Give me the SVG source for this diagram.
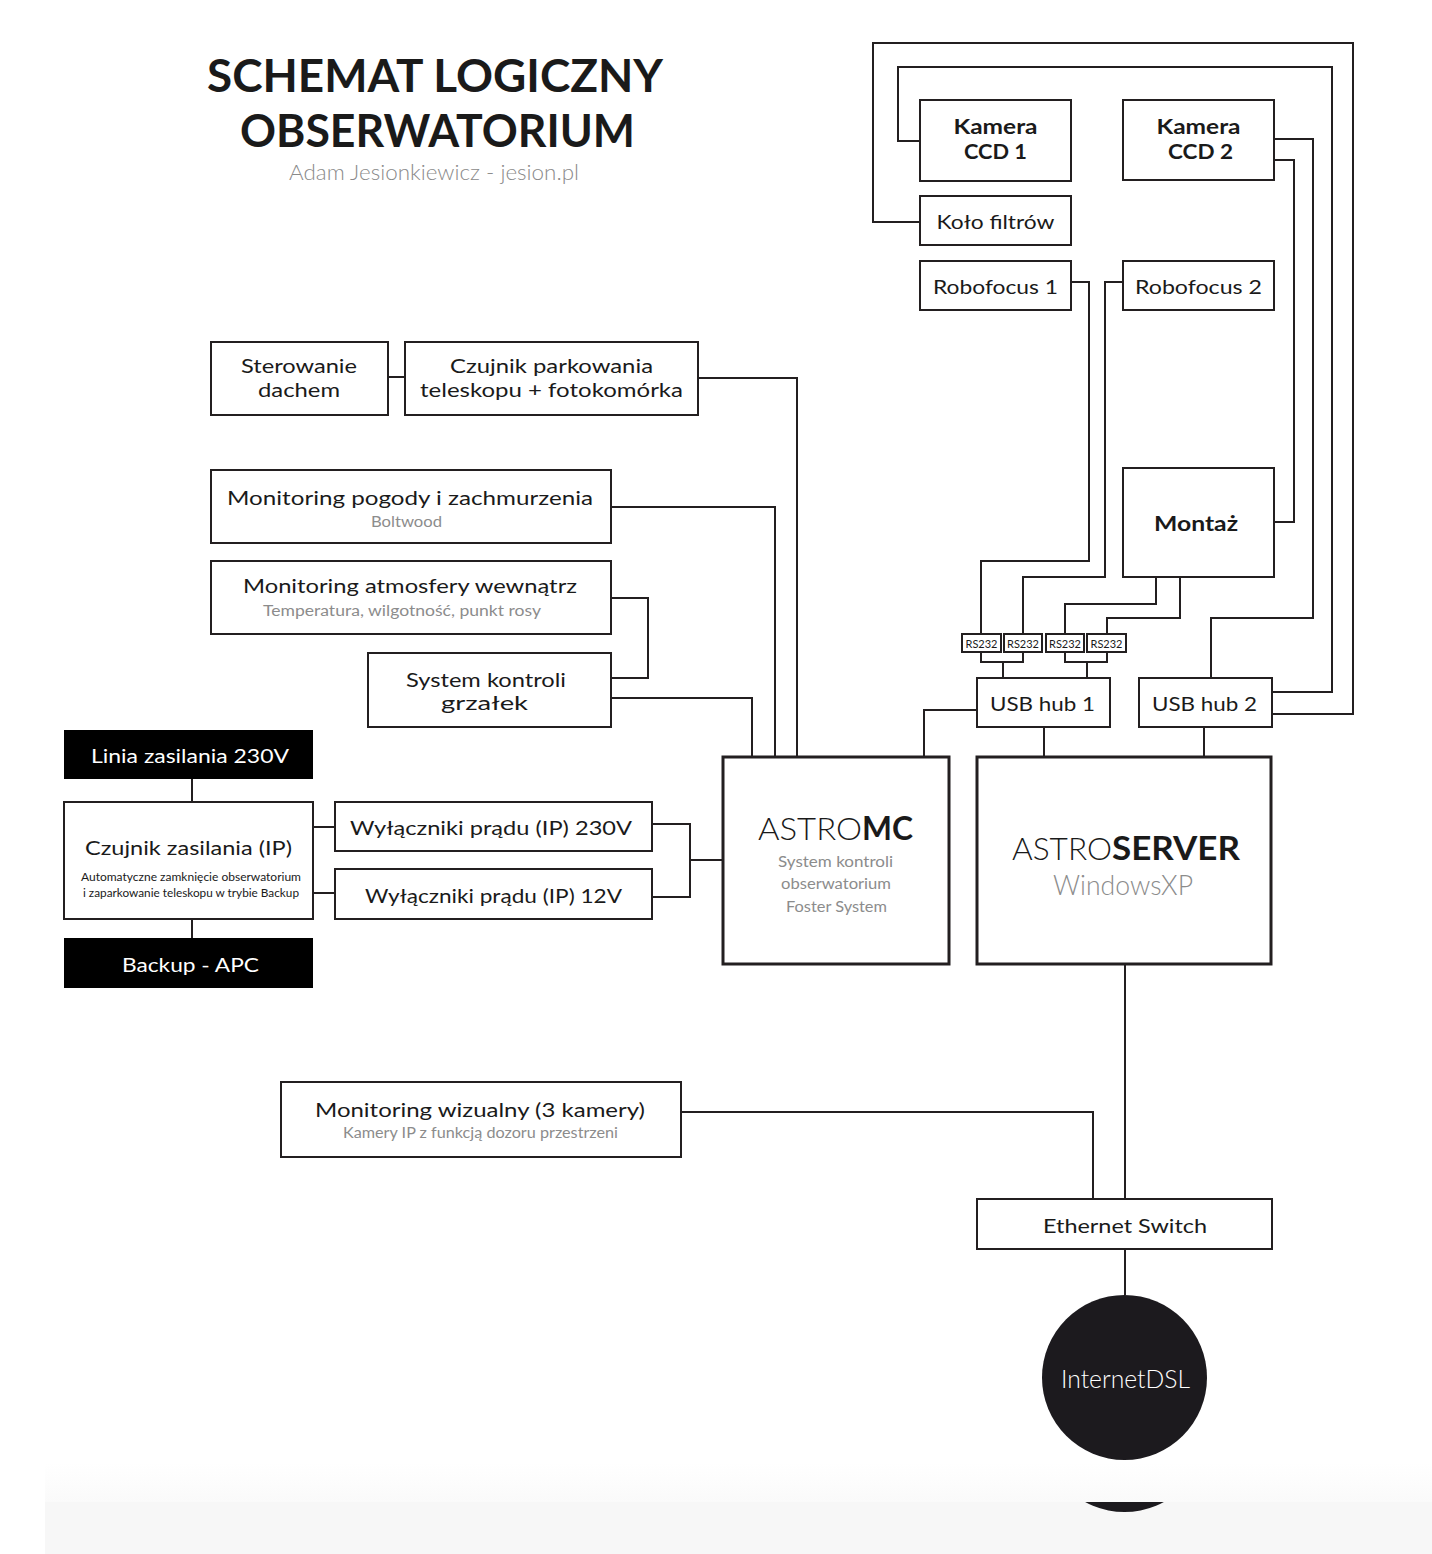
<svg xmlns="http://www.w3.org/2000/svg" width="1432" height="1554" viewBox="0 0 1432 1554">
<style>
.box{fill:#fff;stroke:#231f20;stroke-width:2}
.big{stroke-width:3}
.dark{fill:#000;stroke:none}
.wire{fill:none;stroke:#231f20;stroke-width:2}
text{font-family:Lato,"Open Sans","Noto Sans",sans-serif;fill:#1a1a1a;text-anchor:middle}
.n{font-size:19.5px}
.k{font-size:20.5px}
.s{font-size:15.5px;fill:#8c8c8c}
.b{font-weight:700}
.w{fill:#fff}
.rs{font-size:10.5px}
</style>
<defs>
<clipPath id="band"><rect x="0" y="1502" width="1432" height="52"/></clipPath>
<linearGradient id="fade" x1="0" y1="0" x2="0" y2="1"><stop offset="0" stop-color="#fff"/><stop offset="1" stop-color="#fafafa"/></linearGradient>
</defs>
<rect width="1432" height="1554" fill="#fff"/>
<rect x="45" y="1463" width="1387" height="39" fill="url(#fade)"/>
<rect x="45" y="1502" width="1387" height="52" fill="#f7f7f7"/>
<circle cx="1124.5" cy="1429.5" r="82.5" fill="#1c1a1e" clip-path="url(#band)"/>

<g id="title">
<text x="435" y="92" class="b" font-size="45" textLength="456" lengthAdjust="spacingAndGlyphs">SCHEMAT LOGICZNY</text>
<text x="437.5" y="147" class="b" font-size="45" textLength="395" lengthAdjust="spacingAndGlyphs">OBSERWATORIUM</text>
<text x="434" y="180" font-size="21" font-weight="300" style="fill:#8a8a8a" textLength="290" lengthAdjust="spacingAndGlyphs">Adam Jesionkiewicz - jesion.pl</text>
</g>

<g id="connectors">
<path class="wire" d="M920,222 H873 V43 H1353 V714 H1272"/>
<path class="wire" d="M920,141 H898 V67 H1332 V692 H1272"/>
<path class="wire" d="M1274,139 H1313 V618 H1211 V678"/>
<path class="wire" d="M1274,160 H1294 V522 H1274"/>
<path class="wire" d="M1071,282 H1089 V561 H981 V634"/>
<path class="wire" d="M1123,282 H1105 V577 H1023 V634"/>
<path class="wire" d="M1156,577 V604 H1065 V634"/>
<path class="wire" d="M1180,577 V618 H1107 V634"/>
<path class="wire" d="M981,652 V662 H1023 V652 M1003,662 V678"/>
<path class="wire" d="M1065,652 V662 H1107 V652 M1087,662 V678"/>
<path class="wire" d="M977,710 H924 V757"/>
<path class="wire" d="M1044,727 V757"/>
<path class="wire" d="M1204,727 V757"/>
<path class="wire" d="M1125,964 V1199"/>
<path class="wire" d="M1125,1249 V1295"/>
<path class="wire" d="M681,1112 H1093 V1199"/>
<path class="wire" d="M388,377 H405"/>
<path class="wire" d="M698,378 H797 V757"/>
<path class="wire" d="M611,507 H775 V757"/>
<path class="wire" d="M611,598 H648 V678 H611"/>
<path class="wire" d="M611,698 H752 V757"/>
<path class="wire" d="M192,779 V802"/>
<path class="wire" d="M192,919 V938"/>
<path class="wire" d="M313,827 H336"/>
<path class="wire" d="M313,893 H336"/>
<path class="wire" d="M652,824 H690 V897 H652 M690,860 H723"/>
</g>

<g id="ccd1">
<rect class="box" x="920" y="100" width="151" height="81"/>
<text x="995.5" y="134" class="k b" textLength="84" lengthAdjust="spacingAndGlyphs">Kamera</text>
<text x="995.5" y="159" class="k b" textLength="63" lengthAdjust="spacingAndGlyphs">CCD 1</text>
</g>
<g id="ccd2">
<rect class="box" x="1123" y="100" width="151" height="80"/>
<text x="1198.5" y="134" class="k b" textLength="84" lengthAdjust="spacingAndGlyphs">Kamera</text>
<text x="1200.5" y="159" class="k b" textLength="65" lengthAdjust="spacingAndGlyphs">CCD 2</text>
</g>
<g id="kolo">
<rect class="box" x="920" y="196" width="151" height="49"/>
<text x="995.5" y="229" class="n" textLength="118" lengthAdjust="spacingAndGlyphs">Koło filtrów</text>
</g>
<g id="robofocus1">
<rect class="box" x="920" y="261" width="151" height="49"/>
<text x="995.5" y="294" class="n" textLength="125" lengthAdjust="spacingAndGlyphs">Robofocus 1</text>
</g>
<g id="robofocus2">
<rect class="box" x="1123" y="261" width="151" height="49"/>
<text x="1198.5" y="294" class="n" textLength="127" lengthAdjust="spacingAndGlyphs">Robofocus 2</text>
</g>
<g id="montaz">
<rect class="box" x="1123" y="468" width="151" height="109"/>
<text x="1196" y="531" class="k b" textLength="84" lengthAdjust="spacingAndGlyphs">Montaż</text>
</g>
<g id="rs232">
<rect class="box" x="962" y="634" width="39" height="18" stroke-width="1.5"/>
<rect class="box" x="1004" y="634" width="38" height="18" stroke-width="1.5"/>
<rect class="box" x="1046" y="634" width="38" height="18" stroke-width="1.5"/>
<rect class="box" x="1087" y="634" width="39" height="18" stroke-width="1.5"/>
<text x="981.5" y="647.5" class="rs" textLength="32" lengthAdjust="spacingAndGlyphs">RS232</text>
<text x="1023" y="647.5" class="rs" textLength="32" lengthAdjust="spacingAndGlyphs">RS232</text>
<text x="1065" y="647.5" class="rs" textLength="32" lengthAdjust="spacingAndGlyphs">RS232</text>
<text x="1106.5" y="647.5" class="rs" textLength="32" lengthAdjust="spacingAndGlyphs">RS232</text>
</g>
<g id="usbhub1">
<rect class="box" x="977" y="678" width="133" height="49"/>
<text x="1042.5" y="711" class="n" textLength="105" lengthAdjust="spacingAndGlyphs">USB hub 1</text>
</g>
<g id="usbhub2">
<rect class="box" x="1139" y="678" width="133" height="49"/>
<text x="1204.5" y="711" class="n" textLength="105" lengthAdjust="spacingAndGlyphs">USB hub 2</text>
</g>

<g id="sterowanie">
<rect class="box" x="211" y="342" width="177" height="73"/>
<text x="299" y="373" class="n" textLength="116" lengthAdjust="spacingAndGlyphs">Sterowanie</text>
<text x="299" y="397" class="n" textLength="82" lengthAdjust="spacingAndGlyphs">dachem</text>
</g>
<g id="parkowanie">
<rect class="box" x="405" y="342" width="293" height="73"/>
<text x="551.5" y="373" class="n" textLength="203" lengthAdjust="spacingAndGlyphs">Czujnik parkowania</text>
<text x="551.5" y="397" class="n" textLength="263" lengthAdjust="spacingAndGlyphs">teleskopu + fotokomórka</text>
</g>
<g id="pogoda">
<rect class="box" x="211" y="470" width="400" height="73"/>
<text x="410" y="505" class="n" textLength="366" lengthAdjust="spacingAndGlyphs">Monitoring pogody i zachmurzenia</text>
<text x="406.5" y="527" class="s" textLength="71" lengthAdjust="spacingAndGlyphs">Boltwood</text>
</g>
<g id="atmosfera">
<rect class="box" x="211" y="561" width="400" height="73"/>
<text x="410" y="593" class="n" textLength="334" lengthAdjust="spacingAndGlyphs">Monitoring atmosfery wewnątrz</text>
<text x="402" y="616" class="s" textLength="278" lengthAdjust="spacingAndGlyphs">Temperatura, wilgotność, punkt rosy</text>
</g>
<g id="grzalki">
<rect class="box" x="368" y="653" width="243" height="74"/>
<text x="486" y="687" class="n" textLength="160" lengthAdjust="spacingAndGlyphs">System kontroli</text>
<text x="484.5" y="710" class="n" textLength="87" lengthAdjust="spacingAndGlyphs">grzałek</text>
</g>

<g id="linia">
<rect class="dark" x="64" y="730" width="249" height="49"/>
<text x="190" y="763" class="n w" textLength="198" lengthAdjust="spacingAndGlyphs">Linia zasilania 230V</text>
</g>
<g id="czujnik-zasilania">
<rect class="box" x="64" y="802" width="249" height="117"/>
<text x="188.5" y="855" class="n" textLength="207" lengthAdjust="spacingAndGlyphs">Czujnik zasilania (IP)</text>
<text x="191" y="881" font-size="10.5" textLength="220" lengthAdjust="spacingAndGlyphs">Automatyczne zamknięcie obserwatorium</text>
<text x="191" y="897" font-size="10.5" textLength="216" lengthAdjust="spacingAndGlyphs">i zaparkowanie teleskopu w trybie Backup</text>
</g>
<g id="backup">
<rect class="dark" x="64" y="938" width="249" height="50"/>
<text x="190.5" y="972" class="n w" textLength="137" lengthAdjust="spacingAndGlyphs">Backup - APC</text>
</g>
<g id="wylaczniki230">
<rect class="box" x="335" y="802" width="317" height="49"/>
<text x="491" y="835" class="n" textLength="282" lengthAdjust="spacingAndGlyphs">Wyłączniki prądu (IP) 230V</text>
</g>
<g id="wylaczniki12">
<rect class="box" x="335" y="869" width="317" height="50"/>
<text x="493.5" y="903" class="n" textLength="257" lengthAdjust="spacingAndGlyphs">Wyłączniki prądu (IP) 12V</text>
</g>

<g id="astromc">
<rect class="box big" x="723" y="757" width="226" height="207"/>
<text x="758" y="840" font-size="32" font-weight="300" style="text-anchor:start" textLength="104" lengthAdjust="spacingAndGlyphs">ASTRO</text>
<text x="862" y="840" font-size="32" font-weight="700" style="text-anchor:start" textLength="51" lengthAdjust="spacingAndGlyphs">MC</text>
<text x="835.5" y="867" class="s" font-size="17" textLength="115" lengthAdjust="spacingAndGlyphs">System kontroli</text>
<text x="836" y="889" class="s" font-size="17" textLength="110" lengthAdjust="spacingAndGlyphs">obserwatorium</text>
<text x="836.5" y="912" class="s" font-size="17" textLength="101" lengthAdjust="spacingAndGlyphs">Foster System</text>
</g>
<g id="astroserver">
<rect class="box big" x="977" y="757" width="294" height="207"/>
<text x="1012" y="860" font-size="32" font-weight="300" style="text-anchor:start" textLength="100" lengthAdjust="spacingAndGlyphs">ASTRO</text>
<text x="1112" y="860" font-size="32" font-weight="700" style="text-anchor:start" textLength="128" lengthAdjust="spacingAndGlyphs">SERVER</text>
<text x="1123" y="895" font-size="28" font-weight="300" style="fill:#8c8c8c" textLength="140" lengthAdjust="spacingAndGlyphs">WindowsXP</text>
</g>

<g id="wizualny">
<rect class="box" x="281" y="1082" width="400" height="75"/>
<text x="480" y="1117" class="n" textLength="330" lengthAdjust="spacingAndGlyphs">Monitoring wizualny (3 kamery)</text>
<text x="480.5" y="1138" class="s" textLength="275" lengthAdjust="spacingAndGlyphs">Kamery IP z funkcją dozoru przestrzeni</text>
</g>
<g id="ethernet">
<rect class="box" x="977" y="1199" width="295" height="50"/>
<text x="1125" y="1233" class="n" textLength="164" lengthAdjust="spacingAndGlyphs">Ethernet Switch</text>
</g>
<g id="internet">
<circle cx="1124.5" cy="1377.5" r="82.5" fill="#1c1a1e"/>
<text x="1125.5" y="1388" font-size="26" font-weight="300" class="w" textLength="129" lengthAdjust="spacingAndGlyphs">InternetDSL</text>
</g>
</svg>
